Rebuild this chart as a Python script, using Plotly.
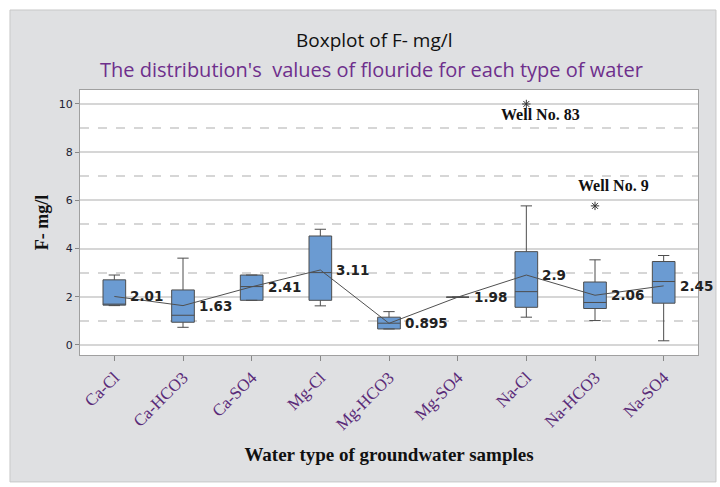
import plotly.graph_objects as go

SERIF = "Liberation Serif"

# values
water_types = ["Ca-Cl", "Ca-HCO3", "Ca-SO4", "Mg-Cl", "Mg-HCO3",
               "Mg-SO4", "Na-Cl", "Na-HCO3", "Na-SO4"]
q1 = [1.65, 0.94, 1.85, 1.85, 0.66, 1.98, 1.56, 1.51, 1.73]
median = [1.67, 1.23, 2.42, 3.00, 0.90, 1.98, 2.21, 1.76, 2.63]
q3 = [2.70, 2.28, 2.90, 4.52, 1.15, 1.98, 3.87, 2.61, 3.46]
lower = [1.63, 0.73, 1.85, 1.62, 0.66, 1.98, 1.15, 1.01, 0.17]
upper = [2.90, 3.60, 2.90, 4.80, 1.38, 1.98, 5.77, 3.53, 3.71]
means = [2.01, 1.63, 2.41, 3.11, 0.895, 1.98, 2.9, 2.06, 2.45]
mean_labels = ["2.01", "1.63", "2.41", "3.11", "0.895", "1.98", "2.9", "2.06", "2.45"]

outlier_types = ["Na-Cl", "Na-HCO3"]
outlier_values = [10.0, 5.77]

fig = go.Figure()

fig.add_trace(go.Box(
    x=water_types, q1=q1, median=median, q3=q3,
    lowerfence=lower, upperfence=upper,
    fillcolor="#6b9bd2", line={"color": "#4d4d4d", "width": 1},
    width=0.33, boxpoints=False, showlegend=False, hoverinfo="skip",
))

# connect line through the means
fig.add_trace(go.Scatter(
    x=water_types, y=means, mode="lines",
    line={"color": "#505050", "width": 1}, showlegend=False,
))

fig.add_trace(go.Scatter(
    x=outlier_types, y=outlier_values, mode="markers",
    marker={"symbol": "asterisk-open", "size": 7, "color": "#333",
            "line": {"color": "#333", "width": 1}},
    showlegend=False,
))

for wt, m, lab in zip(water_types, means, mean_labels):
    fig.add_annotation(
        x=wt, y=m, text=f"<b>{lab}</b>", showarrow=False,
        xanchor="left", xshift=14,
        font={"family": "DejaVu Sans", "size": 13.5, "color": "#222"},
    )

fig.add_annotation(x="Na-Cl", y=10.0, text="<b>Well No. 83</b>", showarrow=False,
                   xshift=14, yshift=-11,
                   font={"family": SERIF, "size": 16, "color": "#111"})
fig.add_annotation(x="Na-HCO3", y=5.77, text="<b>Well No. 9</b>", showarrow=False,
                   xshift=18, yshift=20,
                   font={"family": SERIF, "size": 16, "color": "#111"})

# title and subtitle, placed as paper annotations (y in px: 40 and 69)
fig.add_annotation(xref="paper", yref="paper", x=0.477, y=(355 - 40) / 265,
                   yanchor="middle", text="Boxplot of F- mg/l", showarrow=False,
                   font={"family": "Open Sans", "size": 19, "color": "#111"})
fig.add_annotation(xref="paper", yref="paper", x=0.472, y=(355 - 69) / 265,
                   yanchor="middle",
                   text="The distribution's  values of flouride for each type of water",
                   showarrow=False,
                   font={"family": "Open Sans", "size": 20, "color": "#6e2f8c"})

# white strips around the grey panel
for x0, x1, y0, y1 in [(-0.13, -0.1133, -0.55, 1.4), (-0.13, 1.1, 1.3019, 1.4),
                       (1.0291, 1.1, -0.55, 1.4), (-0.13, 1.1, -0.55, -0.479)]:
    fig.add_shape(type="rect", xref="paper", yref="paper", x0=x0, x1=x1, y0=y0, y1=y1,
                  fillcolor="white", line={"width": 0}, layer="below")
fig.add_shape(type="rect", xref="paper", yref="paper", x0=-0.1133, x1=1.0291,
              y0=-0.479, y1=1.3019, line={"color": "#c8c8c8", "width": 1}, layer="below")

fig.update_layout(
    width=720, height=487,
    paper_bgcolor="#dfe0e2", plot_bgcolor="white",
    margin={"l": 80, "r": 22, "t": 90, "b": 132},
)
fig.update_xaxes(
    range=[-0.5, 8.5], tickangle=-45,
    tickfont={"family": SERIF, "size": 17, "color": "#5a2a78"},
    ticks="outside", ticklen=5, tickcolor="#888",
    showline=True, linecolor="#a0a0a0", mirror=True, showgrid=False,
    title={"text": "<b>Water type of groundwater samples</b>", "standoff": 14,
           "font": {"family": SERIF, "size": 19, "color": "#111"}},
)
fig.update_yaxes(
    range=[-0.42, 10.58], tickvals=[0, 2, 4, 6, 8, 10],
    tickfont={"family": "DejaVu Sans", "size": 11, "color": "#223"},
    ticks="outside", ticklen=4, tickcolor="#888",
    showline=True, linecolor="#a0a0a0", mirror=True, zeroline=False,
    showgrid=True, gridcolor="#d6d6d6", gridwidth=2,
    minor={"dtick": 1, "tick0": 1, "showgrid": True, "gridcolor": "#d6d6d6",
           "gridwidth": 2, "griddash": "dash"},
    title={"text": "<b>F- mg/l</b>", "standoff": 5,
           "font": {"family": SERIF, "size": 18, "color": "#111"}},
)

fig.write_html("out.html", config={"displayModeBar": False},
               post_script="document.body.style.margin='0';")
